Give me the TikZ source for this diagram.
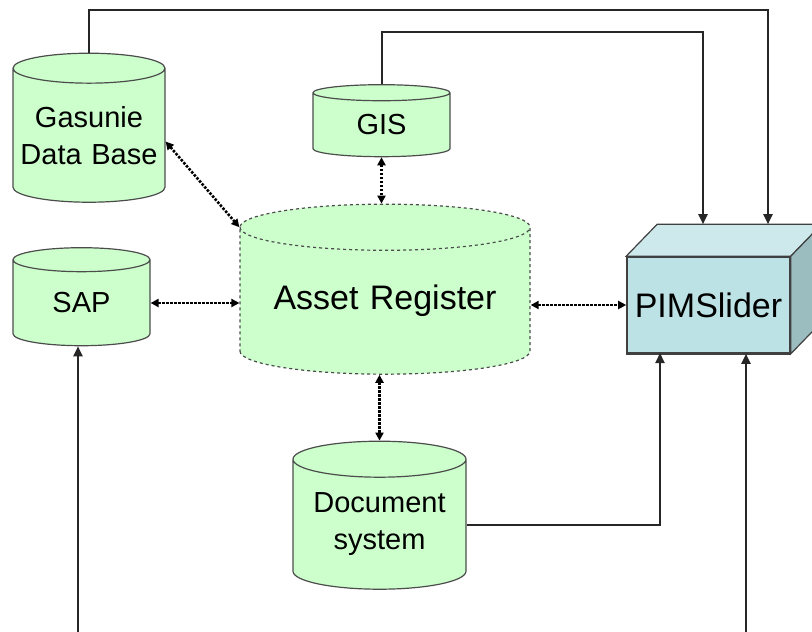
\documentclass[tikz,border=0pt]{standalone}
\usepackage{fontspec}
\setmainfont{Liberation Sans}
\usepackage{xcolor}
\usepackage{tikz}
\usetikzlibrary{positioning, calc, shapes.geometric, arrows.meta}

\definecolor{dbgreen}{HTML}{CCFFCC}
\definecolor{boxfront}{HTML}{BCE2E5}
\definecolor{boxtop}{HTML}{CDE9EB}
\definecolor{boxside}{HTML}{9CBDC0}

\tikzset{
    db/.style={cylinder, shape border rotate=90, draw=black!70, fill=dbgreen,
        line width=1.2pt, inner sep=0pt, align=center,
        font=\fontsize{29}{37}\selectfont},
    link/.style={line width=2pt, draw=black!85, -{Triangle[length=10pt,width=9pt]}},
    sync/.style={line width=2.6pt, dash pattern=on 2.5pt off 1.5pt,
        {Triangle[length=8pt,width=8pt]}-{Triangle[length=8pt,width=8pt]}}
}

\begin{document}
\begin{tikzpicture}[x=1pt, y=-1pt]
        \useasboundingbox (0,0) rectangle (812,632);
        \clip (0,0) rectangle (812,632);

        % the data bases
        \node[db, aspect=0.197, text width=152pt, minimum height=149pt] (gdb) at (89,135.5) {Gasunie\\Data Base};
        \node[db, aspect=0.117, text width=137pt, minimum height=72pt] (gis) at (381.5,125) {GIS};
        \node[db, aspect=0.175, text width=137pt, minimum height=98pt] (sap) at (81.5,303) {SAP};
        \node[db, aspect=0.208, text width=173pt, minimum height=148pt] (doc) at (379.5,524.5) {Document\\system};

        % the register
        \node[db, dashed, aspect=0.159, text width=290pt, minimum height=170pt,
            font=\fontsize{34}{40}\selectfont] (ar) at (385,301) {Asset Register};

        % the slider box
        \node[draw=black!75, fill=boxfront, line width=1.6pt, minimum width=163pt, minimum height=96pt,
            inner sep=0pt, font=\fontsize{34}{40}\selectfont] (pim) at (708.5,305) {PIMSlider};
        \coordinate (pimbl) at ($ (pim.north west)+(31,-32) $);
        \coordinate (pimbr) at ($ (pim.north east)+(31,-32) $);
        \coordinate (pimlr) at ($ (pim.south east)+(31,-32) $);
        \draw[line width=1.2pt, draw=black!75, fill=boxtop] (pim.north west) -- (pimbl) -- (pimbr) -- (pim.north east) -- cycle;
        \draw[line width=1.2pt, draw=black!75, fill=boxside] (pim.north east) -- (pimbr) -- (pimlr) -- (pim.south east) -- cycle;
        \draw[line width=2.4pt, draw=black!75] (pim.south west) -- (pim.south east);

        % loose ends
        \coordinate (topa) at (703,32);
        \coordinate (topb) at (768,10);
        \coordinate (saplow) at (78,632);
        \coordinate (pimlow) at (746,632);

        % feeds into the slider
        \draw[link] (gdb.north) |- (topb) -- (topb |- pimbl);
        \draw[link] (gis.north) |- (topa) -- (topa |- pimbl);
        \draw[link] (doc.east) -| (660,353);
        \draw[link] (pimlow) -- (pimlow |- pim.south);
        \draw[link] (saplow) -- (saplow |- sap.south);

        % links to the register
        \draw[sync] ([yshift=-6pt]gdb.east) -- (ar.before top);
        \draw[sync] (sap.east) -- (ar.west |- sap.east);
        \draw[sync] (ar.east |- pim.west) -- (pim.west);
        \draw[sync] (gis.south) -- (gis.south |- ar.north);
        \draw[sync] (ar.south -| doc.north) -- (doc.north);
    \end{tikzpicture}
\end{document}
